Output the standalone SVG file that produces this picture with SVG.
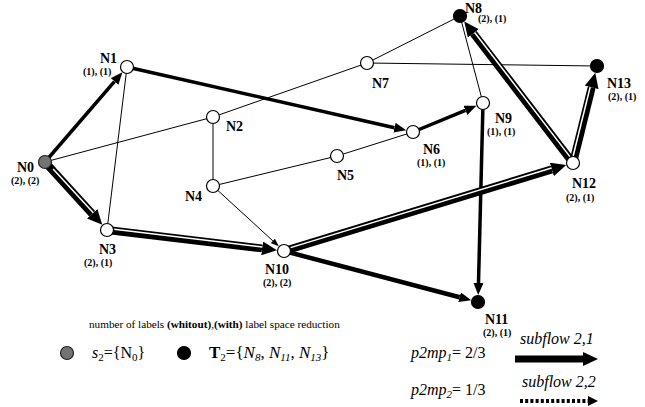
<svg xmlns="http://www.w3.org/2000/svg" width="645" height="407" viewBox="0 0 645 407">
<style>
.thin{stroke:#000;stroke-width:1;fill:none}
.thick{stroke:#000;stroke-width:3.5;fill:none}
.dbl{stroke:#000;stroke-width:8;fill:none}
.wh{stroke:#fff;stroke-width:1.5;fill:none}
.nd{fill:#fff;stroke:#000;stroke-width:1.2}
.src{fill:#737373;stroke:#222;stroke-width:1.2}
.dst{fill:#000;stroke:#000;stroke-width:1.2}
.lb{font-family:"Liberation Serif",serif;font-weight:bold;font-size:14px}
.ct{font-family:"Liberation Serif",serif;font-weight:bold;font-size:10px}
.lg{font-family:"Liberation Serif",serif;font-size:16px}
</style>
<defs>
<marker id="mA" markerUnits="userSpaceOnUse" viewBox="0 0 12 10" markerWidth="12" markerHeight="10" refX="0" refY="5" orient="auto"><path d="M0,0L12,5L0,10z"/></marker>
<marker id="mD" markerUnits="userSpaceOnUse" viewBox="0 0 15 14" markerWidth="15" markerHeight="14" refX="0" refY="7" orient="auto"><path d="M0,0L15,7L0,14z"/></marker>
<marker id="mS" markerUnits="userSpaceOnUse" viewBox="0 0 8 6" markerWidth="8" markerHeight="6" refX="0" refY="3" orient="auto"><path d="M0,0L8,3L0,6z"/></marker>
<marker id="mL" markerUnits="userSpaceOnUse" viewBox="0 0 10 10" markerWidth="10" markerHeight="10" refX="0" refY="5" orient="auto"><path d="M0,0L10,5L0,10z"/></marker>
</defs>
<g id="connectors">
<line class="thin" x1="45" y1="162" x2="213" y2="117"/>
<line class="thin" x1="213" y1="117" x2="367" y2="63"/>
<line class="thin" x1="367" y1="63" x2="460" y2="16"/>
<line class="thin" x1="367" y1="63" x2="597" y2="66"/>
<line class="thin" x1="127" y1="67" x2="107" y2="230"/>
<line class="thin" x1="213" y1="117" x2="213" y2="186"/>
<line class="thin" x1="213" y1="186" x2="337" y2="156"/>
<line class="thin" x1="337" y1="156" x2="413" y2="132"/>
<line class="thin" x1="213" y1="186" x2="272.9" y2="240.9" marker-end="url(#mS)"/>
<line class="thin" x1="483" y1="103" x2="460" y2="16"/>
<line class="thick" x1="45" y1="162" x2="114.6" y2="81.4" marker-end="url(#mA)"/>
<line class="thick" x1="127" y1="67" x2="394.5" y2="127.7" marker-end="url(#mA)"/>
<line class="thick" x1="413" y1="132" x2="465.4" y2="110.3" marker-end="url(#mA)"/>
<line class="thick" x1="483" y1="103" x2="478.5" y2="283" marker-end="url(#mA)"/>
<line class="thick" x1="284" y1="251" x2="459.6" y2="297.2" style="stroke-width:4.5" marker-end="url(#mA)"/>
<line class="dbl" x1="45" y1="162" x2="92.2" y2="213.7" marker-end="url(#mD)"/>
<line class="wh" x1="53.1" y1="169" x2="93.3" y2="212.7"/>
<line class="dbl" x1="107" y1="230" x2="262.1" y2="248.4" marker-end="url(#mD)"/>
<line class="wh" x1="114.2" y1="229.3" x2="262.3" y2="246.9"/>
<line class="dbl" x1="284" y1="251" x2="551.9" y2="169.4" marker-end="url(#mD)"/>
<line class="wh" x1="290.6" y1="247.6" x2="551.5" y2="168"/>
<line class="dbl" x1="573" y1="163" x2="473.4" y2="33.4" marker-end="url(#mD)"/>
<line class="wh" x1="569.9" y1="156.6" x2="474.6" y2="32.5"/>
<line class="dbl" x1="573" y1="163" x2="591.7" y2="87.4" marker-end="url(#mD)"/>
<line class="wh" x1="573.2" y1="155.8" x2="590.2" y2="87"/>
</g>
<g id="N0"><circle class="src" cx="45" cy="162" r="6.5"/><text class="lb" x="17" y="172">N0</text><text class="ct" x="11" y="184">(2), (2)</text></g>
<g id="N1"><circle class="nd" cx="127" cy="67" r="6.5"/><text class="lb" x="100" y="63">N1</text><text class="ct" x="83" y="75">(1), (1)</text></g>
<g id="N2"><circle class="nd" cx="213" cy="117" r="6.5"/><text class="lb" x="226" y="131">N2</text></g>
<g id="N3"><circle class="nd" cx="107" cy="230" r="6.5"/><text class="lb" x="99" y="254">N3</text><text class="ct" x="84" y="266">(2), (1)</text></g>
<g id="N4"><circle class="nd" cx="213" cy="186" r="6.5"/><text class="lb" x="185" y="201">N4</text></g>
<g id="N5"><circle class="nd" cx="337" cy="156" r="6.5"/><text class="lb" x="337" y="180">N5</text></g>
<g id="N6"><circle class="nd" cx="413" cy="132" r="6.5"/><text class="lb" x="423" y="154">N6</text><text class="ct" x="417" y="166">(1), (1)</text></g>
<g id="N7"><circle class="nd" cx="367" cy="63" r="6.5"/><text class="lb" x="372" y="88">N7</text></g>
<g id="N8"><circle class="dst" cx="460" cy="16" r="6.5"/><text class="lb" x="465" y="13">N8</text><text class="ct" x="478" y="22">(2), (1)</text></g>
<g id="N9"><circle class="nd" cx="483" cy="103" r="6.5"/><text class="lb" x="495" y="123">N9</text><text class="ct" x="487" y="135">(1), (1)</text></g>
<g id="N10"><circle class="nd" cx="284" cy="251" r="6.5"/><text class="lb" x="265" y="274">N10</text><text class="ct" x="263" y="286">(2), (2)</text></g>
<g id="N11"><circle class="dst" cx="478" cy="302" r="6.5"/><text class="lb" x="485" y="324">N11</text><text class="ct" x="483" y="336">(2), (1)</text></g>
<g id="N12"><circle class="nd" cx="573" cy="163" r="6.5"/><text class="lb" x="572" y="188">N12</text><text class="ct" x="566" y="201">(2), (1)</text></g>
<g id="N13"><circle class="dst" cx="597" cy="66" r="6.5"/><text class="lb" x="607" y="88">N13</text><text class="ct" x="608" y="100">(2), (1)</text></g>
<g id="legend">
<text x="89" y="328" style="font-family:'Liberation Serif',serif;font-size:11.2px">number of labels <tspan font-weight="bold">(whitout)</tspan>,<tspan font-weight="bold">(with)</tspan> label space reduction</text>
<circle class="src" cx="67" cy="353" r="6.5"/>
<text class="lg" x="92" y="358"><tspan font-style="italic">s</tspan><tspan dy="3" font-size="11">2</tspan><tspan dy="-3">={N</tspan><tspan dy="3" font-size="11">0</tspan><tspan dy="-3">}</tspan></text>
<circle class="dst" cx="184" cy="353" r="6.5"/>
<text class="lg" x="209" y="358" style="font-size:17px"><tspan font-weight="bold">T</tspan><tspan dy="3" font-size="11">2</tspan><tspan dy="-3">={</tspan><tspan font-style="italic">N</tspan><tspan dy="3" font-size="11" font-style="italic">8</tspan><tspan dy="-3">, </tspan><tspan font-style="italic">N</tspan><tspan dy="3" font-size="11" font-style="italic">11</tspan><tspan dy="-3">, </tspan><tspan font-style="italic">N</tspan><tspan dy="3" font-size="11" font-style="italic">13</tspan><tspan dy="-3">}</tspan></text>
<text class="lg" x="411" y="358"><tspan font-style="italic">p2mp</tspan><tspan dy="3" font-size="11" font-style="italic">1</tspan><tspan dy="-3">= 2/3</tspan></text>
<text class="lg" x="411" y="395"><tspan font-style="italic">p2mp</tspan><tspan dy="3" font-size="11" font-style="italic">2</tspan><tspan dy="-3">= 1/3</tspan></text>
<text class="lg" x="520" y="344" style="font-style:italic">subflow 2,1</text>
<text class="lg" x="522" y="387" style="font-style:italic">subflow 2,2</text>
<line x1="515" y1="359" x2="583" y2="359" style="stroke:#000;stroke-width:7" marker-end="url(#mD)"/>
<line x1="520" y1="401" x2="588" y2="401" style="stroke:#000;stroke-width:4;stroke-dasharray:3 2.2" marker-end="url(#mL)"/>
</g>
</svg>
